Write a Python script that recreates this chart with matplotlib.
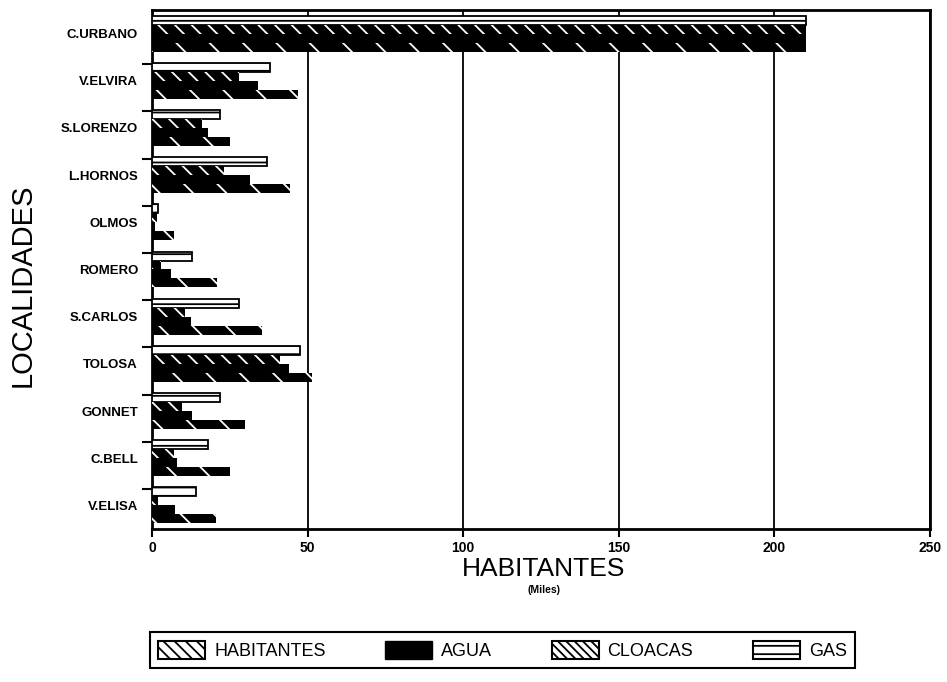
import numpy as np
import matplotlib
matplotlib.use("Agg")
import matplotlib.pyplot as plt
from matplotlib.patches import Patch

plt.rcParams['font.family'] = ['Liberation Sans', 'DejaVu Sans']
plt.rcParams['hatch.linewidth'] = 1.3

localidades = ['C.URBANO', 'V.ELVIRA', 'S.LORENZO', 'L.HORNOS', 'OLMOS', 'ROMERO',
               'S.CARLOS', 'TOLOSA', 'GONNET', 'C.BELL', 'V.ELISA']
habitantes = [210, 47, 25, 44.5, 7, 21, 35.5, 51.5, 30, 25, 20.5]
agua = [210, 34, 18, 31.5, 1, 6, 12.5, 44, 13, 8, 7.5]
cloacas = [210, 28, 16, 23, 1.5, 3, 10.5, 41, 9.5, 7, 2]
gas = [210, 38, 22, 37, 2, 13, 28, 47.5, 22, 18, 14]
xticks = [0, 50, 100, 150, 200, 250]

fig = plt.figure(figsize=(9.47, 6.82), dpi=100)
ax = fig.add_axes([152 / 947, 1 - 529 / 682, 778 / 947, 519 / 682])

y = np.arange(len(localidades))
h = 0.19

# GAS arriba, luego cloacas, agua, habitantes abajo
ax.barh(y - 1.5 * h, gas, h, facecolor='white', edgecolor='black',
        hatch='--', linewidth=1.3, zorder=3)
ax.barh(y - 0.5 * h, cloacas, h, facecolor='black', edgecolor='white',
        hatch='\\\\', linewidth=0, zorder=3)
ax.barh(y + 0.5 * h, agua, h, facecolor='black', edgecolor='black',
        linewidth=0, zorder=3)
ax.barh(y + 1.5 * h, habitantes, h, facecolor='black', edgecolor='white',
        hatch='\\', linewidth=0, zorder=3)

ax.set_ylim(len(localidades) - 0.5, -0.5)
ax.set_xlim(0, 250)
ax.set_xticks(xticks)
ax.set_xticklabels([str(v) for v in xticks], fontsize=10, fontweight='bold')
ax.set_yticks(y)
ax.set_yticklabels(localidades, fontsize=9.5, fontweight='bold')
ax.set_yticks(y[:-1] + 0.65, minor=True)
ax.tick_params(axis='y', which='major', length=0, pad=10)
ax.tick_params(axis='y', which='minor', length=7, width=1.5, direction='out')
ax.tick_params(axis='x', length=6, width=1.5, direction='out', pad=3)

ax.grid(axis='x', color='black', linewidth=1.3)
ax.set_axisbelow(True)
for s in ax.spines.values():
    s.set_linewidth(2)

ax.set_ylabel('LOCALIDADES', fontsize=21)
ax.yaxis.set_label_coords(-0.148, 0.47)
ax.set_xlabel('HABITANTES', fontsize=19)
ax.xaxis.set_label_coords(0.503, -0.053)
fig.text(544 / 947, 1 - 590 / 682, '(Miles)', fontsize=7.5, fontweight='bold',
         ha='center', va='center')

handles = [
    Patch(facecolor='white', edgecolor='black', hatch='\\\\\\', linewidth=1.5),
    Patch(facecolor='black', edgecolor='black'),
    Patch(facecolor='white', edgecolor='black', hatch='\\\\\\\\', linewidth=1.5),
    Patch(facecolor='white', edgecolor='black', hatch='--', linewidth=1.5),
]
labels = ['HABITANTES', 'AGUA', 'CLOACAS', 'GAS']
leg = fig.legend(handles, labels, loc='lower left',
                 bbox_to_anchor=(150 / 947, 1 - 668 / 682, 705 / 947, 38 / 682),
                 mode='expand', ncol=4, frameon=True, fancybox=False,
                 edgecolor='black', framealpha=1, borderaxespad=0,
                 handlelength=2.6, handleheight=1.2, handletextpad=0.5,
                 fontsize=13, borderpad=0.45)
leg.get_frame().set_linewidth(1.5)

fig.savefig('out.png', dpi=100)
